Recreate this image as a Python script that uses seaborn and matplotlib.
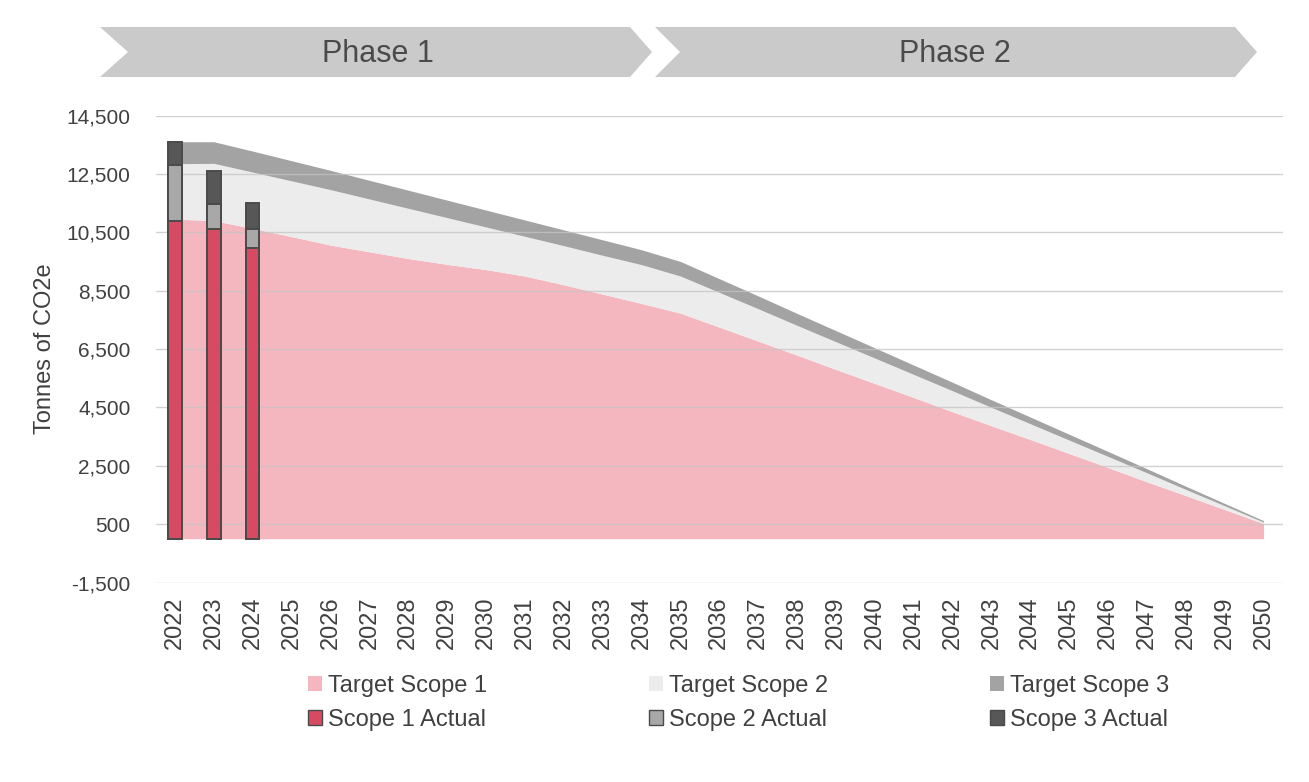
import numpy as np
import pandas as pd
import matplotlib
matplotlib.use("Agg")
import matplotlib.pyplot as plt
from matplotlib.patches import Polygon, Patch
import seaborn as sns

# Target pathway (tonnes CO2e)
years = list(range(2022, 2051))
target_s1 = [10950, 10900, 10630, 10350, 10060, 9830, 9600, 9400, 9220, 9000,
             8700, 8380, 8060, 7730, 7250, 6770, 6290, 5800, 5320, 4840,
             4350, 3870, 3400, 2920, 2440, 1950, 1480, 1000, 520]
target_s2 = [1900, 1960, 1930, 1910, 1900, 1810, 1720, 1600, 1460, 1360,
             1340, 1330, 1330, 1270, 1190, 1110, 1020, 950, 870, 790,
             720, 630, 540, 460, 380, 310, 210, 130, 50]
target_s3 = [750, 740, 720, 690, 660, 640, 620, 600, 580, 560,
             540, 530, 510, 500, 470, 440, 410, 380, 350, 320,
             290, 260, 230, 200, 170, 140, 110, 80, 50]

# Actuals
actual_years = [2022, 2023, 2024]
actual_s1 = [10900, 10600, 9950]
actual_s2 = [1900, 870, 650]
actual_s3 = [800, 1130, 900]

phases = ["Phase 1", "Phase 2"]

c_t1, c_t2, c_t3 = "#f4b7bf", "#ececec", "#a3a3a3"
c_a1, c_a2, c_a3 = "#d64a62", "#a8a8a8", "#575757"
edge = "#4a4a4a"
txt = "#404040"

sns.set_theme(style="white")
plt.rcParams["font.family"] = ["Liberation Sans", "DejaVu Sans"]
plt.rcParams["axes.unicode_minus"] = False

fig = plt.figure(figsize=(13.09, 7.82), dpi=100)
ax = fig.add_axes([0.1189, 0.2551, 0.8612, 0.5972])

# stacked target areas
ax.stackplot(years, target_s1, target_s2, target_s3,
             colors=[c_t1, c_t2, c_t3], linewidth=0, zorder=1)

# stacked actual bars (drawn tallest first)
df = pd.DataFrame({"year": actual_years, "s1": actual_s1,
                   "s2": actual_s2, "s3": actual_s3})
df["s12"] = df["s1"] + df["s2"]
df["s123"] = df["s12"] + df["s3"]
for col, c in [("s123", c_a3), ("s12", c_a2), ("s1", c_a1)]:
    sns.barplot(data=df, x="year", y=col, native_scale=True, width=0.34,
                color=c, saturation=1, edgecolor=edge, linewidth=1.4,
                errorbar=None, zorder=3, ax=ax)

ax.set_xlim(2021.5, 2050.5)
ax.set_ylim(-1500, 14500)
ax.set_yticks(np.arange(-1500, 14501, 2000))
ax.yaxis.set_major_formatter(matplotlib.ticker.StrMethodFormatter("{x:,.0f}"))
ax.set_xticks(years)
ax.set_xticklabels([str(y) for y in years], rotation=90)
ax.tick_params(axis="both", length=0, colors=txt)
ax.tick_params(axis="y", pad=18, labelsize=15)
ax.tick_params(axis="x", pad=10, labelsize=17)
ax.grid(axis="y", color="#c4c4c4", linewidth=1, alpha=0.75)
ax.grid(axis="x", visible=False)
ax.set_axisbelow("line")
for s in ax.spines.values():
    s.set_visible(False)
ax.set_xlabel("")
ax.set_ylabel("Tonnes of CO2e", fontsize=17, color=txt)
ax.yaxis.set_label_coords(-0.088, 0.5)

# phase chevrons along the top
W, H = 1309, 782
def fpt(x, y):
    return (x / W, 1 - y / H)

chev1 = [(100, 27), (630, 27), (652, 52), (630, 77), (100, 77), (128, 52)]
chev2 = [(655, 27), (1235, 27), (1257, 52), (1235, 77), (655, 77), (680, 52)]
for pts, label, cx in [(chev1, phases[0], 378), (chev2, phases[1], 955)]:
    fig.add_artist(Polygon([fpt(*p) for p in pts], closed=True,
                           transform=fig.transFigure, facecolor="#cacaca",
                           edgecolor="none"))
    fig.text(*fpt(cx, 54), label, ha="center", va="center",
             fontsize=22, color="#4a4a4a")

handles = [
    Patch(facecolor=c_t1, edgecolor="none", label="Target Scope 1"),
    Patch(facecolor=c_a1, edgecolor=edge, label="Scope 1 Actual"),
    Patch(facecolor=c_t2, edgecolor="none", label="Target Scope 2"),
    Patch(facecolor=c_a2, edgecolor=edge, label="Scope 2 Actual"),
    Patch(facecolor=c_t3, edgecolor="none", label="Target Scope 3"),
    Patch(facecolor=c_a3, edgecolor=edge, label="Scope 3 Actual"),
]
fig.legend(handles=handles, loc="center", bbox_to_anchor=(0.564, 0.101),
           ncol=3, frameon=False, fontsize=17, handlelength=0.6,
           handleheight=0.6, handletextpad=0.25, columnspacing=6.85,
           labelspacing=0.5, labelcolor=txt)

fig.savefig("out.png", dpi=100)
